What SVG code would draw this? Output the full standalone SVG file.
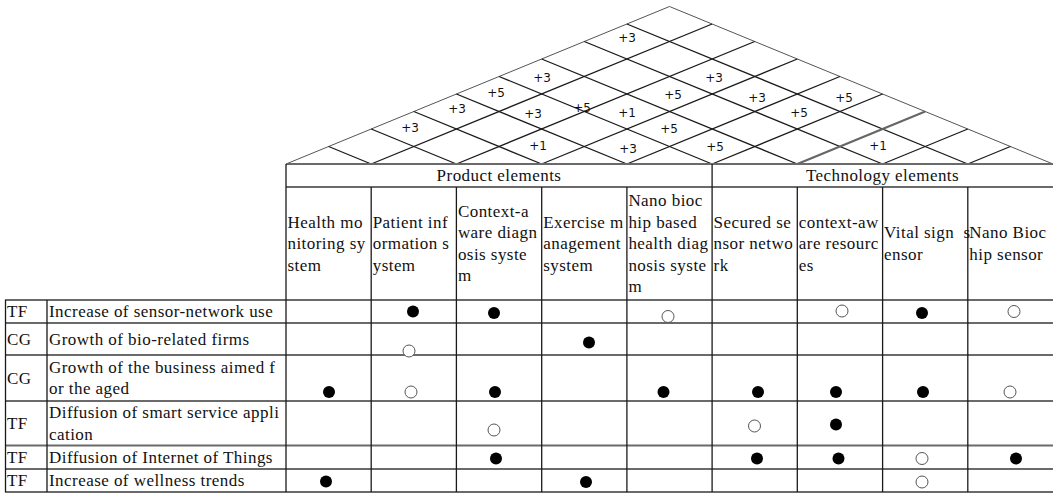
<svg xmlns="http://www.w3.org/2000/svg" width="1053" height="494" viewBox="0 0 1053 494">
<style>
.bg{fill:#fff}
.edge{stroke:#555;stroke-width:1;fill:none}
.grid{stroke:#1a1a1a;stroke-width:1.3;fill:none}
.grid2{stroke:#666;stroke-width:2.2;fill:none}
.hl{stroke:#6a6a6a;stroke-width:1.8;fill:none}
.vl{stroke:#1a1a1a;stroke-width:1.3;fill:none}
.rl{font-family:"DejaVu Sans",sans-serif;font-size:12px;fill:#111;text-anchor:middle}
.t{font-family:"Liberation Serif","Times New Roman",serif;font-size:17px;fill:#111;letter-spacing:0.45px}
.tc{text-anchor:middle}
.f{fill:#000}
.o{fill:#fff;stroke:#555;stroke-width:1}
</style>
<rect class="bg" x="0" y="0" width="1053" height="494"/>

<g id="roof">
  <polyline class="edge" points="286,164 669.5,6.5 1053,164"/>
  <g class="grid">
    <line x1="371.22" y1="164" x2="712.11" y2="24"/>
    <line x1="456.44" y1="164" x2="754.72" y2="41.5"/>
    <line x1="541.67" y1="164" x2="797.33" y2="59"/>
    <line x1="626.89" y1="164" x2="839.94" y2="76.5"/>
    <line x1="712.11" y1="164" x2="882.56" y2="94"/>
    <line x1="882.56" y1="164" x2="967.78" y2="129"/>
    <line x1="967.78" y1="164" x2="1010.39" y2="146.5"/>
    <line x1="371.22" y1="164" x2="328.61" y2="146.5"/>
    <line x1="456.44" y1="164" x2="371.22" y2="129"/>
    <line x1="541.67" y1="164" x2="413.83" y2="111.5"/>
    <line x1="626.89" y1="164" x2="456.44" y2="94"/>
    <line x1="712.11" y1="164" x2="499.06" y2="76.5"/>
    <line x1="797.33" y1="164" x2="541.67" y2="59"/>
    <line x1="882.56" y1="164" x2="584.28" y2="41.5"/>
    <line x1="967.78" y1="164" x2="626.89" y2="24"/>
  </g>
  <line class="grid2" x1="797.33" y1="164" x2="925.17" y2="111.5"/>
</g>

<g id="roof-labels">
  <text class="rl" x="627" y="41.5">+3</text>
  <text class="rl" x="542" y="81.5">+3</text>
  <text class="rl" x="714" y="81.5">+3</text>
  <text class="rl" x="496" y="96.5">+5</text>
  <text class="rl" x="673" y="99">+5</text>
  <text class="rl" x="757" y="102">+3</text>
  <text class="rl" x="844" y="101.5">+5</text>
  <text class="rl" x="457" y="113">+3</text>
  <text class="rl" x="533" y="117.5">+3</text>
  <text class="rl" x="582" y="111.5">+5</text>
  <text class="rl" x="627" y="116.5">+1</text>
  <text class="rl" x="799" y="116.5">+5</text>
  <text class="rl" x="410" y="131.5">+3</text>
  <text class="rl" x="669" y="132.5">+5</text>
  <text class="rl" x="538" y="149.5">+1</text>
  <text class="rl" x="628" y="153">+3</text>
  <text class="rl" x="715" y="150.5">+5</text>
  <text class="rl" x="878" y="149.5">+1</text>
</g>

<g id="table-grid">
  <g class="hl">
    <line x1="286" y1="164" x2="1053" y2="164"/>
    <line x1="286" y1="187" x2="1053" y2="187"/>
    <line x1="5" y1="300" x2="1053" y2="300"/>
    <line x1="5" y1="323" x2="1053" y2="323"/>
    <line x1="5" y1="355" x2="1053" y2="355"/>
    <line x1="5" y1="401" x2="1053" y2="401"/>
    <line x1="5" y1="445.5" x2="1053" y2="445.5"/>
    <line x1="5" y1="469" x2="1053" y2="469"/>
    <line x1="5" y1="492" x2="1053" y2="492"/>
  </g>
  <g class="vl">
    <line x1="5.5" y1="300" x2="5.5" y2="492"/>
    <line x1="47" y1="300" x2="47" y2="492"/>
    <line x1="286" y1="164" x2="286" y2="492"/>
    <line x1="371.2" y1="187" x2="371.2" y2="492"/>
    <line x1="456.4" y1="187" x2="456.4" y2="492"/>
    <line x1="541.7" y1="187" x2="541.7" y2="492"/>
    <line x1="626.9" y1="187" x2="626.9" y2="492"/>
    <line x1="712.1" y1="164" x2="712.1" y2="492"/>
    <line x1="797.3" y1="187" x2="797.3" y2="492"/>
    <line x1="882.6" y1="187" x2="882.6" y2="492"/>
    <line x1="967.8" y1="187" x2="967.8" y2="492"/>
  </g>
</g>

<g id="group-headers">
  <text class="t tc" x="499" y="181">Product elements</text>
  <text class="t tc" x="882.5" y="181">Technology elements</text>
</g>

<g id="column-headers" class="t">
  <text x="287.5" y="227.5"><tspan x="287.5">Health mo</tspan><tspan x="287.5" dy="21.5">nitoring sy</tspan><tspan x="287.5" dy="21.5">stem</tspan></text>
  <text x="372.7" y="227.5"><tspan x="372.7">Patient inf</tspan><tspan x="372.7" dy="21.5">ormation s</tspan><tspan x="372.7" dy="21.5">ystem</tspan></text>
  <text x="457.9" y="216.75"><tspan x="457.9">Context-a</tspan><tspan x="457.9" dy="21.5">ware diagn</tspan><tspan x="457.9" dy="21.5">osis syste</tspan><tspan x="457.9" dy="21.5">m</tspan></text>
  <text x="543.2" y="227.5"><tspan x="543.2">Exercise m</tspan><tspan x="543.2" dy="21.5">anagement</tspan><tspan x="543.2" dy="21.5">system</tspan></text>
  <text x="628.4" y="206"><tspan x="628.4">Nano bioc</tspan><tspan x="628.4" dy="21.5">hip based</tspan><tspan x="628.4" dy="21.5">health diag</tspan><tspan x="628.4" dy="21.5">nosis syste</tspan><tspan x="628.4" dy="21.5">m</tspan></text>
  <text x="713.6" y="227.5"><tspan x="713.6">Secured se</tspan><tspan x="713.6" dy="21.5">nsor netwo</tspan><tspan x="713.6" dy="21.5">rk</tspan></text>
  <text x="798.8" y="227.5"><tspan x="798.8">context-aw</tspan><tspan x="798.8" dy="21.5">are resourc</tspan><tspan x="798.8" dy="21.5">es</tspan></text>
  <text x="884.1" y="238.25"><tspan x="884.1">Vital sign&#160; s</tspan><tspan x="884.1" dy="21.5">ensor</tspan></text>
  <text x="969.3" y="238.25"><tspan x="969.3">Nano Bioc</tspan><tspan x="969.3" dy="21.5">hip sensor</tspan></text>
</g>

<g id="row-labels" class="t">
  <text x="7" y="317">TF</text>
  <text x="49" y="317">Increase of sensor-network use</text>
  <text x="7" y="344.5">CG</text>
  <text x="49" y="344.5">Growth of bio-related firms</text>
  <text x="7" y="384">CG</text>
  <text x="49" y="372.75"><tspan x="49">Growth of the business aimed f</tspan><tspan x="49" dy="21.5">or the aged</tspan></text>
  <text x="7" y="429">TF</text>
  <text x="49" y="418"><tspan x="49">Diffusion of smart service appli</tspan><tspan x="49" dy="21.5">cation</tspan></text>
  <text x="7" y="462.5">TF</text>
  <text x="49" y="462.5">Diffusion of Internet of Things</text>
  <text x="7" y="486">TF</text>
  <text x="49" y="486">Increase of wellness trends</text>
</g>

<g id="marks">
  <circle class="f" cx="413" cy="311.5" r="6"/>
  <circle class="f" cx="494" cy="313" r="6"/>
  <circle class="o" cx="668" cy="316.5" r="6"/>
  <circle class="o" cx="842" cy="311" r="6"/>
  <circle class="f" cx="922" cy="313" r="6"/>
  <circle class="o" cx="1014" cy="311.5" r="6"/>

  <circle class="o" cx="409" cy="351" r="6"/>
  <circle class="f" cx="589" cy="342.5" r="6"/>

  <circle class="f" cx="329" cy="392" r="6"/>
  <circle class="o" cx="411" cy="392" r="6"/>
  <circle class="f" cx="495" cy="392" r="6"/>
  <circle class="f" cx="663.5" cy="392" r="6"/>
  <circle class="f" cx="758" cy="392" r="6"/>
  <circle class="f" cx="836" cy="392" r="6"/>
  <circle class="f" cx="923" cy="392" r="6"/>
  <circle class="o" cx="1010" cy="392" r="6"/>

  <circle class="o" cx="494" cy="430" r="6"/>
  <circle class="o" cx="754.5" cy="426" r="6"/>
  <circle class="f" cx="836" cy="424.5" r="6"/>

  <circle class="f" cx="496" cy="458.5" r="6"/>
  <circle class="f" cx="757" cy="458.5" r="6"/>
  <circle class="f" cx="838.5" cy="458.5" r="6"/>
  <circle class="o" cx="922" cy="458.5" r="6"/>
  <circle class="f" cx="1016" cy="458.5" r="6"/>

  <circle class="f" cx="326" cy="481.5" r="6"/>
  <circle class="f" cx="586" cy="482" r="6"/>
  <circle class="o" cx="922" cy="482" r="6"/>
</g>
</svg>
